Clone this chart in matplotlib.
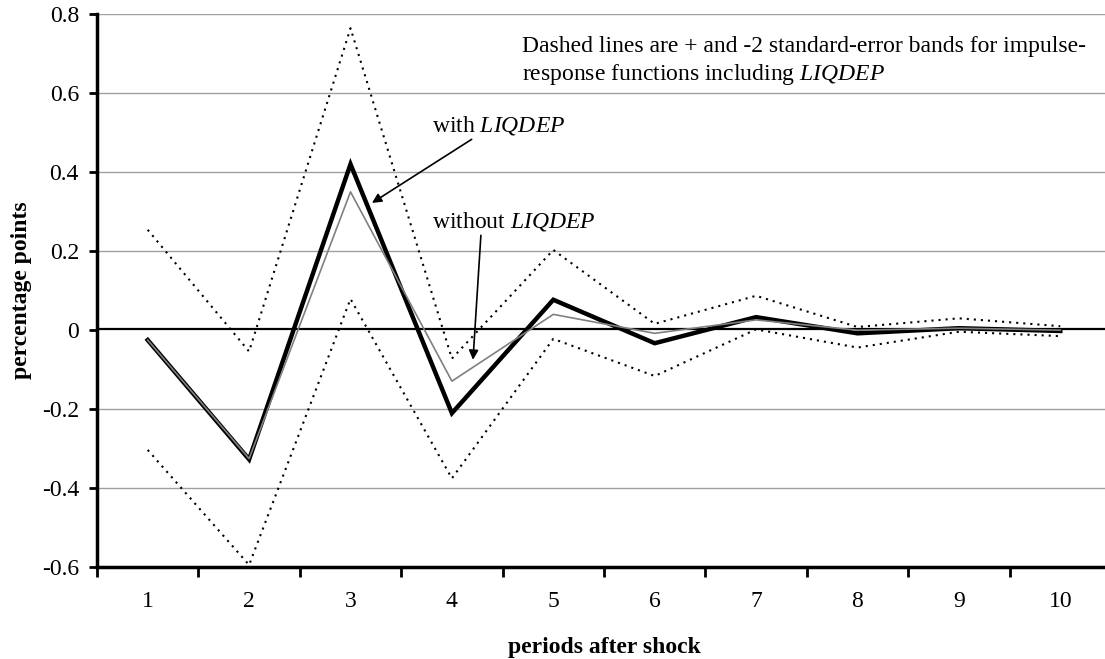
import matplotlib
matplotlib.use("Agg")
from matplotlib import pyplot as plt

plt.rcParams['font.family'] = ['Liberation Serif', 'DejaVu Serif']
plt.rcParams['mathtext.fontset'] = 'custom'
plt.rcParams['mathtext.it'] = 'Liberation Serif:italic'
plt.rcParams['mathtext.rm'] = 'Liberation Serif'

periods = [1, 2, 3, 4, 5, 6, 7, 8, 9, 10]
with_liqdep = [-0.025, -0.327, 0.42, -0.21, 0.077, -0.033, 0.033, -0.008, 0.005, -0.002]
without_liqdep = [-0.025, -0.325, 0.35, -0.129, 0.040, -0.008, 0.026, 0.0, 0.005, 0.0]
upper_band = [0.254, -0.054, 0.764, -0.072, 0.203, 0.016, 0.087, 0.008, 0.030, 0.010]
lower_band = [-0.303, -0.594, 0.079, -0.375, -0.022, -0.116, 0.002, -0.044, -0.004, -0.015]
yticks = [-0.6, -0.4, -0.2, 0, 0.2, 0.4, 0.6, 0.8]
ytick_labels = ["-0.6", "-0.4", "-0.2", "0", "0.2", "0.4", "0.6", "0.8"]

fs = 17

fig = plt.figure(figsize=(11.05, 6.59), dpi=100)
ax = fig.add_axes([97/1105, (659-567.3)/659, (1111-97)/1105, (567.3-14)/659])

for v in yticks:
    if v != 0:
        ax.axhline(v, color="#a0a0a0", lw=1.0, zorder=0)
ax.axhline(0.003, color="black", lw=1.6, zorder=1)

dots = (0, (1, 2.4))
ax.plot(periods, upper_band, color="black", lw=1.5, ls=dots, zorder=2)
ax.plot(periods, lower_band, color="black", lw=1.5, ls=dots, zorder=2)
ax.plot(periods, with_liqdep, color="black", lw=3.2, zorder=3, solid_joinstyle="miter")
ax.plot(periods, without_liqdep, color="#808080", lw=1.2, zorder=4)

ax.set_xlim(0.5, 10.5)
ax.set_ylim(-0.6, 0.8)
ax.set_yticks(yticks)
ax.set_yticklabels(ytick_labels, fontsize=fs)
ax.set_xticks([p - 0.5 for p in periods] + [10.5])
ax.set_xticklabels([])
ax.set_xticks(periods, minor=True)
ax.set_xticklabels([str(p) for p in periods], minor=True, fontsize=fs)
ax.tick_params(axis="x", which="major", direction="out", length=7, width=2)
ax.tick_params(axis="x", which="minor", length=0, pad=17)
ax.tick_params(axis="y", direction="out", length=6, width=2, pad=7)

for s in ["top", "right"]:
    ax.spines[s].set_visible(False)
for s in ["left", "bottom"]:
    ax.spines[s].set_linewidth(2.5)

ax.set_ylabel("percentage points", fontsize=17, fontweight="bold", labelpad=7)
ax.set_xlabel("periods after shock", fontsize=17, fontweight="bold", labelpad=18)

ax.text(4.691, 0.717, "Dashed lines are + and -2 standard-error bands for impulse-",
        fontsize=fs, va="center", ha="left")
ax.text(4.691, 0.646, r"response functions including $\mathit{LIQDEP}$",
        fontsize=fs, va="center", ha="left")

ax.annotate(r"with $\mathit{LIQDEP}$", xy=(3.212, 0.322), xytext=(3.804, 0.519),
            fontsize=fs, va="center", ha="left",
            arrowprops=dict(arrowstyle="-|>", color="black", lw=1.2,
                            mutation_scale=14, shrinkA=0, shrinkB=0,
                            relpos=(0.33, 0.0)))
ax.annotate(r"without $\mathit{LIQDEP}$", xy=(4.208, -0.075), xytext=(3.804, 0.276),
            fontsize=fs, va="center", ha="left",
            arrowprops=dict(arrowstyle="-|>", color="black", lw=1.2,
                            mutation_scale=14, shrinkA=0, shrinkB=0,
                            relpos=(0.3, 0.0)))

fig.savefig("out.png", dpi=100)
